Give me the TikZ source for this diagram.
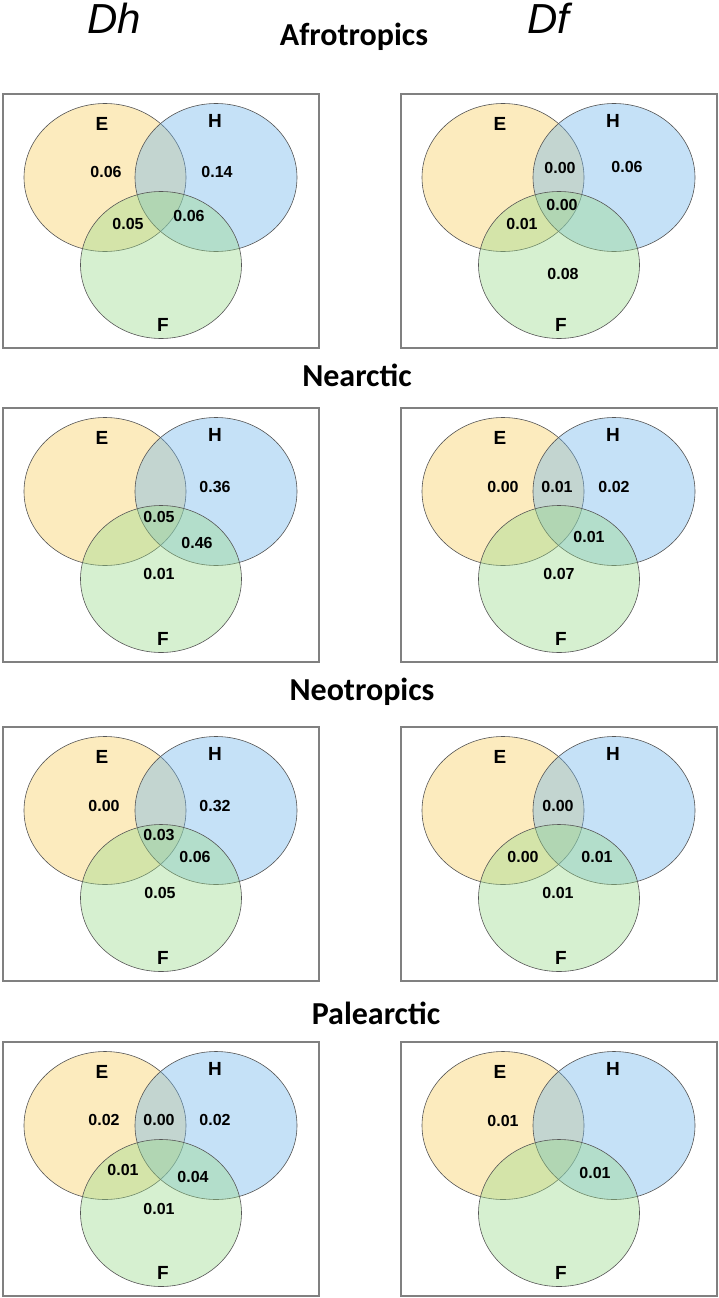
\documentclass[tikz,border=0pt]{standalone}
\usepackage{fontspec}
\setmainfont{Liberation Sans}
\newfontfamily\calfont{Carlito}
\definecolor{ebase}{RGB}{248,205,93}
\definecolor{hbase}{RGB}{110,180,235}
\definecolor{fbase}{RGB}{152,217,137}
\definecolor{boxgray}{RGB}{128,128,128}
\definecolor{ringgray}{RGB}{85,85,85}
\tikzset{
  boxline/.style={draw=boxgray,line width=1.1pt},
  ring/.style={draw=ringgray,line width=0.6pt,fill opacity=0.4},
  setlab/.style={font=\fontsize{19}{22}\selectfont\bfseries,inner sep=0pt},
  num/.style={font=\fontsize{16}{18}\selectfont\bfseries,inner sep=0pt},
  region/.style={font=\calfont\fontsize{32}{36}\selectfont\bfseries,anchor=base,inner sep=0pt},
  coltitle/.style={font=\fontsize{42}{46}\selectfont\itshape,anchor=base,inner sep=0pt}
}
\newcommand{\vennpanel}[3]{%
  \begin{scope}[shift={(#1,#2)}]
    \draw[boxline] (0,0) rectangle (316,254);
    \filldraw[ring,fill=ebase] (102,83.5) ellipse [x radius=81, y radius=74];
    \filldraw[ring,fill=hbase] (213,83.5) ellipse [x radius=81, y radius=74];
    \filldraw[ring,fill=fbase] (158,171) ellipse [x radius=80.5, y radius=73.5];
    \node[setlab] (#3E) at (99,30) {E};
    \node[setlab] (#3H) at (212,27) {H};
    \node[setlab] (#3F) at (160,231) {F};
  \end{scope}}
\begin{document}
\begin{tikzpicture}[x=1pt,y=-1pt]
\useasboundingbox (0,0) rectangle (719,1298);
% column titles
\node[coltitle] (dh) at (114,34) {Dh};
\node[coltitle] (df) at (548,34) {Df};
% region titles
\node[region] (afro) at (354,46) {Afrotropics};
\node[region] (nearc) at (357,386) {Nearctic};
\node[region] (neot) at (362,700) {Neotropics};
\node[region] (palea) at (376,1024) {Palearctic};
% panels
\vennpanel{3}{94}{a1}
\vennpanel{401}{94}{a2}
\vennpanel{3}{408}{b1}
\vennpanel{401}{408}{b2}
\vennpanel{3}{727}{c1}
\vennpanel{401}{727}{c2}
\vennpanel{3}{1042}{d1}
\vennpanel{401}{1042}{d2}
% Afrotropics Dh
\node[num] (a1n1) at (106,172) {0.06};
\node[num] (a1n2) at (217,172) {0.14};
\node[num] (a1n3) at (128,224) {0.05};
\node[num] (a1n4) at (189,216) {0.06};
% Afrotropics Df
\node[num] (a2n1) at (560,168) {0.00};
\node[num] (a2n2) at (627,167) {0.06};
\node[num] (a2n3) at (562,205) {0.00};
\node[num] (a2n4) at (522,224) {0.01};
\node[num] (a2n5) at (563,274) {0.08};
% Nearctic Dh
\node[num] (b1n1) at (215,487) {0.36};
\node[num] (b1n2) at (159,517) {0.05};
\node[num] (b1n3) at (197,543) {0.46};
\node[num] (b1n4) at (159,574) {0.01};
% Nearctic Df
\node[num] (b2n1) at (503,487) {0.00};
\node[num] (b2n2) at (557,487) {0.01};
\node[num] (b2n3) at (614,487) {0.02};
\node[num] (b2n4) at (589,537) {0.01};
\node[num] (b2n5) at (559,574) {0.07};
% Neotropics Dh
\node[num] (c1n1) at (104,806) {0.00};
\node[num] (c1n2) at (215,806) {0.32};
\node[num] (c1n3) at (159,835) {0.03};
\node[num] (c1n4) at (195,857) {0.06};
\node[num] (c1n5) at (160,893) {0.05};
% Neotropics Df
\node[num] (c2n1) at (558,806) {0.00};
\node[num] (c2n2) at (523,857) {0.00};
\node[num] (c2n3) at (597,857) {0.01};
\node[num] (c2n4) at (558,893) {0.01};
% Palearctic Dh
\node[num] (d1n1) at (104,1120) {0.02};
\node[num] (d1n2) at (159,1120) {0.00};
\node[num] (d1n3) at (215,1120) {0.02};
\node[num] (d1n4) at (123,1170) {0.01};
\node[num] (d1n5) at (193,1177) {0.04};
\node[num] (d1n6) at (159,1209) {0.01};
% Palearctic Df
\node[num] (d2n1) at (503,1121) {0.01};
\node[num] (d2n2) at (595,1173) {0.01};
\end{tikzpicture}
\end{document}
